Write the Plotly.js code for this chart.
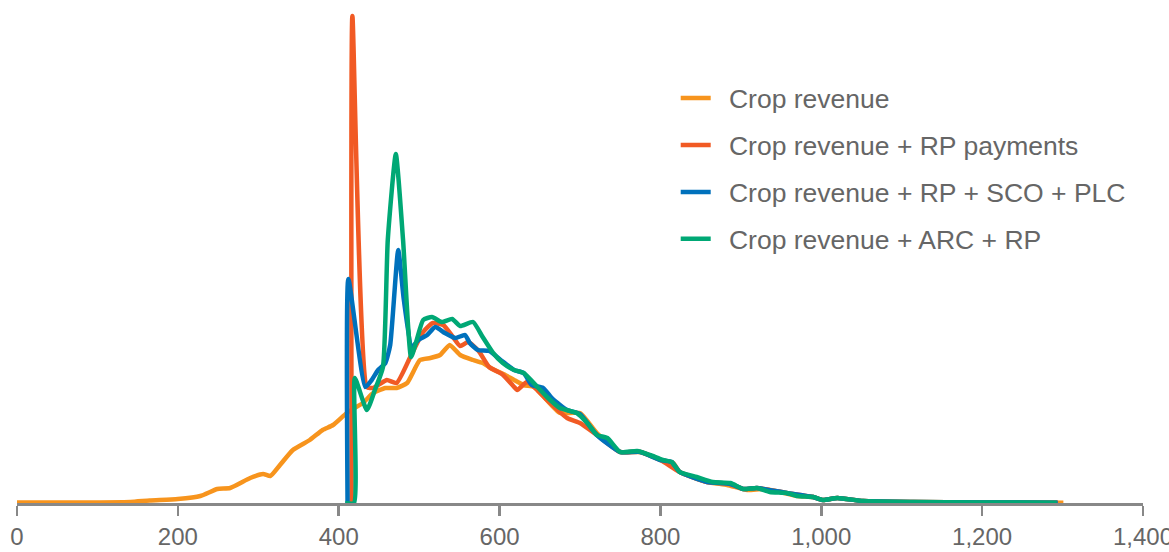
<!DOCTYPE html>
<html>
<head>
<meta charset="utf-8">
<script src="https://cdn.plot.ly/plotly-3.0.1.min.js"></script>
<style>
  html, body { margin: 0; padding: 0; background: #ffffff; }
  #chart { width: 1169px; height: 552px; }
</style>
</head>
<body>
<div id="chart"></div>
<script>
// Revenue ($/acre) and relative density for each distribution
const cropX = [0, 53, 103, 141, 165, 200, 228, 249, 265, 290, 306, 315, 327, 343, 364, 380, 393, 410, 430, 443, 458, 472, 485, 501, 514, 526, 538, 551, 567, 579, 591, 607, 618, 630, 643, 654, 675, 700, 721, 750, 775, 800, 816, 824, 858, 883, 908, 928, 949, 970, 990, 1002, 1020, 1052, 1114, 1197, 1301];
const cropY = [0.5, 0.5, 0.6, 1, 2.5, 4, 7, 14, 15, 25, 29, 27, 38, 53, 63, 73, 78, 90, 100, 110, 115, 115, 120, 143, 145, 148, 158, 148, 143, 140, 134, 128, 123, 118, 116, 107, 90, 90, 70, 51, 51, 43, 40, 31, 21, 18, 13, 14, 11, 7, 6, 3, 5, 2, 1, 0.5, 0.3];

const rpX = [416, 417, 435, 443, 451, 460, 472, 489, 505, 517, 530, 542, 551, 561, 574, 587, 603, 617, 622, 634, 647, 659, 684, 700, 721, 750, 775, 800, 824, 858, 887, 903, 920, 957, 990, 1002, 1020, 1052, 1114, 1197, 1294];
const rpY = [0, 487, 116, 115, 119, 123, 120, 146, 171, 180, 178, 166, 157, 161, 152, 136, 129, 117, 113, 121, 113, 103, 85, 80, 68, 51, 51, 43, 31, 21, 19, 14, 15, 10, 6, 3, 5, 2, 1, 0.5, 0.3];

const scoX = [411, 412, 433, 441, 449, 458, 464, 474, 481, 491, 499, 510, 520, 532, 545, 557, 563, 573, 587, 603, 618, 630, 640, 654, 666, 684, 700, 721, 750, 775, 800, 814, 824, 858, 887, 903, 920, 957, 990, 1002, 1020, 1052, 1114, 1197, 1294];
const scoY = [0, 224, 116, 123, 133, 140, 158, 253, 203, 156, 163, 168, 176, 170, 165, 168, 160, 153, 152, 142, 133, 130, 118, 115, 104, 93, 89, 68, 51, 51, 43, 41, 31, 21, 19, 14, 15, 10, 6, 3, 5, 2, 1, 0.5, 0.3];

const arcX = [408, 419, 420, 435, 445, 455, 461, 471, 480, 490, 497, 505, 516, 528, 541, 551, 567, 579, 592, 604, 618, 630, 647, 659, 675, 696, 709, 721, 734, 750, 771, 787, 803, 814, 824, 845, 865, 887, 903, 920, 936, 957, 970, 990, 1002, 1020, 1052, 1114, 1197, 1293];
const arcY = [0, 0, 125, 93, 113, 136, 263, 349, 263, 146, 163, 183, 186, 181, 184, 177, 181, 166, 150, 140, 133, 130, 116, 106, 95, 90, 80, 68, 65, 51, 52, 48, 43, 41, 31, 26, 21, 20, 14, 15, 11, 10, 7, 6, 3, 5, 2, 1, 0.5, 0.3];

const seriesNames = ["Crop revenue", "Crop revenue + RP payments", "Crop revenue + RP + SCO + PLC", "Crop revenue + ARC + RP"];
const seriesColors = ["#F7941D", "#F15A24", "#0071BC", "#00A875"];
const xTicks = [0, 200, 400, 600, 800, 1000, 1200, 1400];
const xTickLabels = ["0", "200", "400", "600", "800", "1,000", "1,200", "1,400"];

const xs = [cropX, rpX, scoX, arcX];
const ys = [cropY, rpY, scoY, arcY];

const traces = seriesNames.map((name, i) => ({
  type: "scatter",
  mode: "lines",
  name: "\u2002" + name,
  x: xs[i],
  y: ys[i],
  legendgroup: "g" + i,
  line: { color: seriesColors[i], width: 4.5, shape: "spline", smoothing: 0.5 },
  hoverinfo: "x+y+name"
}));

const layout = {
  width: 1169,
  height: 552,
  margin: { l: 17, r: 26, t: 13, b: 49 },
  paper_bgcolor: "#ffffff",
  plot_bgcolor: "#ffffff",
  font: { family: "Liberation Sans, Arial, sans-serif", color: "#666666" },
  showlegend: true,
  legend: {
    x: 0.585, y: 0.875, xanchor: "left", yanchor: "top",
    font: { size: 26.5, color: "#666666" },
    traceorder: "grouped",
    tracegroupgap: 9.5,
    bgcolor: "rgba(0,0,0,0)"
  },
  xaxis: {
    range: [0, 1400],
    tickvals: xTicks,
    ticktext: xTickLabels,
    ticks: "outside",
    ticklen: 10,
    tickwidth: 2.5,
    tickcolor: "#888888",
    showline: true,
    linecolor: "#888888",
    linewidth: 3,
    showgrid: false,
    zeroline: false,
    ticklabelstandoff: 0,
    ticklabeloverflow: "allow",
    tickfont: { size: 24, color: "#666666" }
  },
  yaxis: {
    range: [0, 490],
    visible: false,
    showgrid: false,
    zeroline: false
  }
};

Plotly.newPlot("chart", traces, layout, { displayModeBar: false, staticPlot: true });
</script>
</body>
</html>
